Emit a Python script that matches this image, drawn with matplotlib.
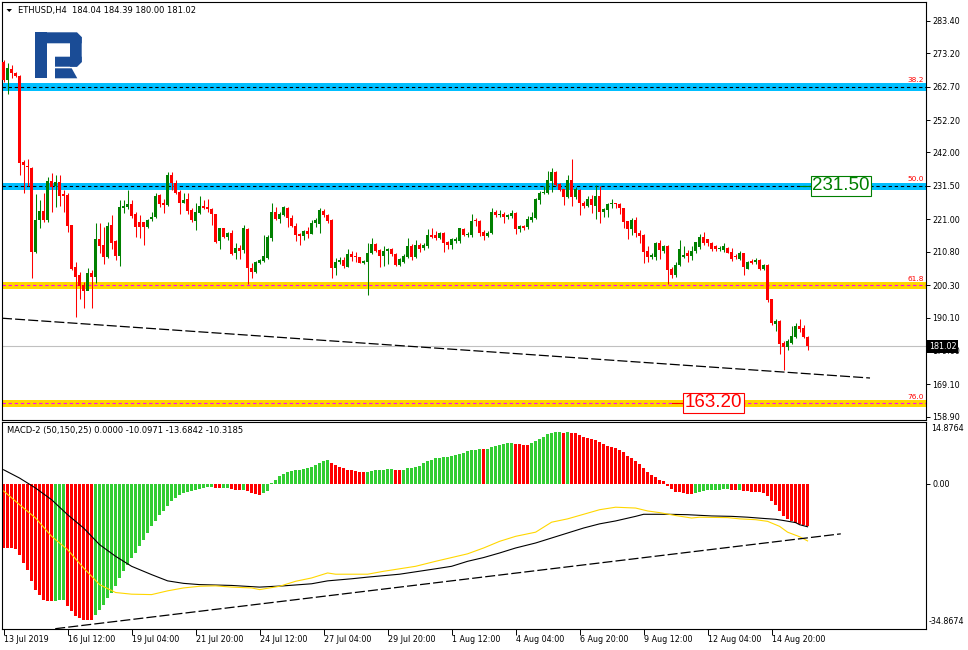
import matplotlib
matplotlib.use("Agg")
import matplotlib.pyplot as plt
import matplotlib.transforms as mtransforms
from matplotlib.patches import Polygon
import numpy as np

plt.rcParams['font.family'] = ['DejaVu Sans']

# ---- ETHUSD H4 candles (one value per bar) ----
opens = [
    270.4, 264.8, 268.2, 266.9, 266.0, 239.1, 237.9, 237.2, 210.6, 220.8,
    223.6, 220.8, 233.0, 231.4, 232.8, 229.1, 228.6, 219.2, 205.9, 203.5,
    200.3, 198.5, 204.0, 202.9, 214.7, 212.9, 209.0, 219.2, 214.1, 209.4,
    224.7, 224.9, 225.8, 222.6, 220.0, 220.0, 218.6, 221.0, 221.8, 228.6,
    226.2, 225.5, 234.9, 232.5, 229.6, 226.2, 227.4, 223.9, 220.5, 223.1,
    225.3, 224.9, 224.1, 222.6, 214.1, 218.1, 215.5, 216.7, 210.3, 212.1,
    211.3, 217.8, 205.6, 204.3, 207.3, 207.8, 208.7, 215.0, 223.4, 221.0,
    222.3, 224.6, 221.3, 219.0, 216.3, 215.7, 217.4, 216.5, 219.7, 219.5,
    223.6, 222.3, 220.8, 205.8, 207.7, 208.2, 206.1, 210.1, 209.2, 209.0,
    207.3, 207.7, 210.3, 213.2, 211.3, 209.4, 211.0, 211.6, 210.1, 206.6,
    207.7, 209.2, 212.6, 209.0, 212.9, 212.1, 212.6, 216.0, 216.0, 215.0,
    216.6, 213.9, 212.9, 214.2, 214.1, 217.9, 216.2, 216.2, 220.8, 220.5,
    217.1, 215.7, 216.6, 223.4, 222.3, 222.6, 221.6, 222.0, 223.1, 217.8,
    218.9, 218.7, 220.8, 221.5, 227.0, 229.3, 229.3, 233.1, 235.9, 232.1,
    230.4, 227.9, 233.3, 227.9, 230.2, 226.2, 225.3, 227.3, 225.2, 228.3,
    223.4, 223.9, 225.8, 226.0, 225.8, 224.4, 220.4, 217.8, 220.8, 216.6,
    216.0, 211.0, 209.0, 209.2, 213.6, 211.1, 212.6, 205.5, 203.5, 206.6,
    209.2, 210.3, 209.4, 211.1, 212.2, 215.5, 214.7, 213.4, 212.6, 211.5,
    211.3, 212.1, 210.8, 209.4, 208.4, 210.3, 205.5, 208.0, 207.6, 208.2,
    205.5, 206.6, 195.8, 188.1, 189.0, 182.2, 180.7, 182.2, 184.1, 187.4,
    186.7, 184.04,
]
highs = [
    271.0, 270.0, 269.5, 267.4, 266.3, 239.6, 240.0, 237.5, 229.1, 227.2,
    229.3, 234.3, 235.7, 234.9, 234.9, 230.2, 229.4, 219.2, 207.6, 204.5,
    201.4, 205.6, 205.0, 219.7, 219.7, 218.6, 220.2, 222.3, 214.5, 227.0,
    227.0, 230.2, 227.0, 223.4, 222.3, 220.2, 221.0, 223.4, 229.3, 229.1,
    227.5, 235.9, 235.9, 233.3, 230.2, 229.3, 229.4, 224.4, 226.0, 228.3,
    227.0, 227.5, 224.4, 222.8, 218.1, 218.1, 217.0, 217.6, 213.4, 212.9,
    219.2, 218.1, 207.1, 207.8, 208.4, 216.1, 216.0, 226.0, 224.9, 223.4,
    225.3, 224.9, 222.3, 219.7, 216.7, 217.6, 218.6, 220.9, 221.5, 224.4,
    224.1, 222.8, 221.1, 208.7, 209.2, 209.2, 211.8, 211.0, 210.8, 209.2,
    208.2, 213.4, 215.2, 213.4, 211.5, 212.6, 212.1, 212.0, 210.3, 208.7,
    210.1, 215.0, 213.2, 214.5, 213.6, 213.4, 217.9, 218.1, 217.4, 217.1,
    217.1, 214.2, 215.0, 215.5, 218.4, 218.1, 217.1, 222.8, 221.5, 220.9,
    217.6, 217.4, 224.4, 223.9, 223.9, 223.4, 222.8, 223.9, 223.4, 219.2,
    219.2, 222.0, 223.4, 227.6, 230.0, 231.5, 236.3, 237.1, 236.3, 232.3,
    230.4, 235.0, 239.9, 231.2, 230.4, 226.9, 228.3, 228.5, 231.7, 231.5,
    224.4, 226.2, 227.3, 226.2, 226.0, 224.7, 220.6, 221.3, 221.6, 217.6,
    216.3, 212.5, 210.3, 214.0, 214.5, 213.0, 213.0, 205.9, 207.5, 214.5,
    212.6, 211.3, 212.5, 214.0, 216.5, 217.1, 214.9, 213.9, 213.0, 212.6,
    213.4, 212.4, 212.0, 210.0, 211.1, 210.5, 208.0, 208.6, 208.8, 208.4,
    207.0, 206.9, 196.0, 189.5, 189.3, 182.6, 183.3, 187.4, 188.5, 189.8,
    187.8, 184.39,
]
lows = [
    264.0, 260.5, 265.3, 265.6, 234.9, 229.3, 231.5, 202.4, 210.3, 218.1,
    220.2, 220.2, 223.2, 224.9, 225.3, 223.4, 217.1, 205.0, 190.4, 195.8,
    193.0, 198.7, 193.0, 201.0, 210.3, 206.9, 208.7, 211.8, 208.2, 206.3,
    223.1, 224.1, 221.3, 215.5, 215.0, 212.9, 218.1, 220.5, 221.3, 225.0,
    223.1, 225.3, 230.2, 229.1, 222.6, 226.2, 222.6, 220.2, 217.6, 222.8,
    224.1, 223.4, 219.2, 213.6, 211.6, 215.0, 214.5, 209.7, 208.4, 208.4,
    210.3, 200.8, 202.4, 204.0, 206.9, 207.5, 208.5, 214.3, 220.8, 219.7,
    222.1, 218.6, 218.6, 214.1, 212.9, 214.5, 215.0, 216.3, 218.6, 216.7,
    221.8, 219.7, 202.4, 203.5, 206.9, 205.6, 205.9, 208.0, 207.7, 207.1,
    207.0, 197.2, 210.1, 210.8, 206.1, 206.3, 206.9, 209.5, 206.3, 206.3,
    207.3, 208.8, 208.2, 208.7, 210.8, 211.3, 212.1, 215.0, 214.5, 214.7,
    210.8, 211.8, 211.6, 213.4, 213.6, 215.7, 215.5, 215.5, 219.0, 215.7,
    214.4, 215.3, 216.3, 221.8, 221.6, 219.7, 221.1, 221.3, 216.3, 217.1,
    217.6, 217.9, 220.2, 221.1, 225.7, 228.8, 229.1, 229.5, 231.5, 229.9,
    225.6, 227.6, 225.3, 227.4, 222.3, 224.4, 225.0, 223.1, 221.0, 219.9,
    221.8, 221.8, 224.7, 224.4, 222.6, 218.1, 214.7, 216.0, 215.5, 213.6,
    207.3, 207.7, 208.4, 208.2, 208.6, 210.5, 200.8, 202.4, 203.0, 206.3,
    208.8, 207.5, 208.2, 210.5, 211.5, 213.0, 212.6, 211.0, 211.1, 211.0,
    210.8, 210.3, 208.0, 208.6, 208.2, 203.4, 205.3, 206.8, 207.0, 205.2,
    205.2, 194.9, 187.8, 186.0, 178.8, 173.6, 180.0, 181.8, 183.6, 185.5,
    183.8, 180.00,
]
closes = [
    264.8, 268.5, 266.9, 266.0, 238.8, 238.0, 237.3, 210.8, 220.8, 223.6,
    220.8, 233.0, 231.2, 232.8, 228.3, 228.3, 219.0, 205.4, 203.0, 200.1,
    198.5, 204.0, 202.9, 214.7, 212.7, 209.0, 218.9, 213.4, 209.4, 224.9,
    225.3, 225.8, 222.0, 218.6, 218.6, 218.6, 220.8, 221.8, 228.3, 225.8,
    225.5, 234.9, 232.3, 229.3, 226.2, 227.2, 223.6, 220.8, 223.4, 225.1,
    224.7, 224.1, 222.6, 213.9, 218.1, 215.5, 216.7, 210.1, 212.1, 211.1,
    218.1, 205.6, 204.3, 207.6, 208.2, 209.3, 215.5, 223.4, 221.0, 222.8,
    224.9, 221.3, 218.9, 216.0, 215.7, 217.4, 216.5, 219.7, 220.8, 223.8,
    222.3, 220.5, 205.8, 207.7, 208.2, 206.3, 210.1, 209.0, 209.0, 207.3,
    208.0, 210.3, 213.2, 211.0, 209.4, 211.0, 211.8, 210.1, 206.6, 208.4,
    209.4, 212.6, 209.0, 212.9, 211.8, 212.9, 216.0, 215.5, 215.0, 216.6,
    213.6, 212.9, 214.7, 214.7, 218.1, 216.2, 216.5, 220.4, 220.4, 216.8,
    215.7, 216.8, 223.4, 222.3, 222.8, 221.6, 222.3, 223.1, 217.8, 219.0,
    218.4, 221.1, 221.8, 227.4, 229.3, 229.7, 233.3, 235.9, 231.8, 230.2,
    227.9, 233.5, 227.9, 230.4, 226.0, 225.3, 227.3, 225.6, 228.3, 223.4,
    224.2, 225.8, 226.2, 225.8, 224.4, 220.2, 217.8, 220.8, 216.6, 215.7,
    210.8, 209.0, 209.7, 213.4, 211.3, 212.6, 205.2, 203.5, 206.6, 211.8,
    209.7, 209.4, 211.1, 213.9, 215.5, 213.4, 213.6, 211.5, 211.5, 212.1,
    212.6, 210.5, 208.4, 209.0, 210.3, 205.9, 207.6, 207.3, 208.2, 205.5,
    206.6, 195.6, 188.3, 189.0, 181.8, 180.7, 182.8, 184.3, 187.4, 186.4,
    184.1, 181.02,
]

# ---- MACD-2 (50,150,25) histogram, one value per bar ----
macd_hist = [
    -15.3, -15.4, -15.5, -15.6, -17.0, -19.0, -20.6, -23.4, -25.4, -26.8,
    -28.0, -28.1, -28.2, -28.1, -28.0, -27.9, -29.4, -30.6, -31.8, -32.2,
    -32.6, -32.7, -32.8, -31.6, -30.2, -29.0, -27.4, -26.2, -24.6, -22.6,
    -21.0, -19.4, -17.8, -16.6, -15.0, -13.4, -11.8, -10.2, -9.0, -7.4,
    -6.6, -5.4, -4.2, -3.4, -2.6, -2.2, -1.9, -1.6, -1.4, -1.2,
    -1.0, -0.8, -0.7, -1.0, -1.1, -1.0, -0.9, -1.2, -1.4, -1.5,
    -1.4, -1.8, -2.2, -2.5, -2.6, -2.3, -1.8, 0.3, 1.0, 1.8,
    2.3, 2.8, 3.1, 3.3, 3.45, 3.6, 3.76, 4.08, 4.56, 5.12,
    5.6, 5.76, 4.96, 4.56, 4.08, 3.76, 3.45, 3.36, 3.12, 2.85,
    2.8, 2.85, 3.12, 3.36, 3.38, 3.4, 3.6, 3.62, 3.4, 3.38,
    3.42, 3.76, 3.92, 4.16, 4.4, 4.96, 5.52, 5.84, 6.16, 6.24,
    6.48, 6.5, 6.72, 6.96, 7.2, 7.44, 7.91, 8.07, 8.23, 8.39,
    8.37, 8.42, 8.79, 9.03, 9.35, 9.59, 9.75, 9.77, 9.7, 9.51,
    9.35, 9.3, 9.75, 10.39, 10.79, 11.27, 11.91, 12.23, 12.39, 12.55,
    12.23, 12.47, 12.23, 12.2, 11.75, 11.27, 11.11, 10.79, 10.63, 10.15,
    9.59, 9.11, 8.87, 8.63, 8.15, 7.67, 6.72, 6.32, 5.52, 4.8,
    3.84, 2.88, 2.16, 1.68, 0.96, 0.72, -0.48, -1.2, -1.84, -1.86,
    -2.24, -2.40, -2.42, -2.16, -1.92, -1.6, -1.44, -1.43, -1.42, -1.41,
    -1.2, -1.19, -1.44, -1.45, -1.40, -1.68, -1.7, -1.92, -1.93, -1.94,
    -2.16, -2.88, -4.08, -5.04, -6.48, -7.67, -8.39, -9.03, -9.35, -9.67,
    -9.83, -10.1,
]

# MACD main (black) and signal (gold) lines, read at these bars
main_idx = [0, 4, 8, 12, 16, 20, 24, 28, 32, 37, 41, 45, 49, 57, 64, 70, 77, 81,
            87, 91, 99, 108, 112, 116, 120, 124, 128, 133, 137, 141, 145, 149,
            153, 158, 160, 166, 171, 177, 182, 186, 190, 193, 195, 198, 199, 201]
main_val = [3.4, 1.4, -1.0, -3.8, -7.4, -10.6, -14.6, -17.4, -19.8, -21.8, -23.3,
            -23.9, -24.2, -24.4, -24.8, -24.5, -24.0, -23.3, -22.8, -22.4, -21.7,
            -20.4, -19.8, -18.6, -17.7, -16.6, -15.4, -14.2, -13.0, -11.8, -10.6,
            -9.6, -8.9, -7.8, -7.3, -7.3, -7.4, -7.7, -7.8, -8.0, -8.3, -8.5,
            -8.8, -9.3, -9.8, -10.3]
sig_idx = [0, 4, 8, 12, 16, 20, 24, 28, 32, 37, 41, 45, 49, 53, 57, 62, 64, 69,
           73, 77, 81, 83, 91, 95, 99, 103, 108, 112, 116, 120, 124, 128, 133,
           137, 141, 145, 149, 153, 158, 161, 164, 168, 172, 174, 181, 184, 188,
           191, 194, 196, 199, 201]
sig_val = [-1.7, -5.0, -8.2, -12.6, -15.8, -20.2, -24.2, -26.1, -26.5, -26.6,
           -25.7, -25.0, -24.6, -24.5, -24.8, -25.0, -25.4, -24.6, -23.4, -22.6,
           -21.4, -21.7, -21.7, -21.0, -20.4, -19.8, -18.6, -17.7, -16.8, -15.4,
           -13.8, -12.6, -11.6, -9.2, -8.4, -7.3, -6.2, -5.6, -5.8, -6.5, -6.9,
           -7.6, -8.2, -8.0, -8.1, -8.4, -8.6, -9.0, -10.2, -11.6, -12.7, -13.7]

# trend lines (bar index, value)
price_trend_x = [-0.4, 216.6]
price_trend_y = [189.9, 171.1]
macd_trend_x = [12.9, 209.3]
macd_trend_y = [-34.8, -12.0]

# fibonacci levels
fib_levels = [262.7, 231.5, 200.3, 163.2]
fib_names = ['38.2', '50.0', '61.8', '76.0']
fib_band = ['#00bfff', '#00bfff', '#ffd700', '#ffd700']
fib_dash = ['#000000', '#000000', '#ff00ff', '#ff00ff']

price_ticks = [283.40, 273.20, 262.70, 252.20, 242.00, 231.50, 221.00,
               210.80, 200.30, 190.10, 179.60, 169.10, 158.90]
last_price = 181.02

time_idx = [0, 16, 32, 48, 64, 80, 96, 112, 128, 144, 160, 176, 192]
time_labels = ['13 Jul 2019', '16 Jul 12:00', '19 Jul 04:00', '21 Jul 20:00',
               '24 Jul 12:00', '27 Jul 04:00', '29 Jul 20:00', '1 Aug 12:00',
               '4 Aug 04:00', '6 Aug 20:00', '9 Aug 12:00', '12 Aug 04:00',
               '14 Aug 20:00']

W, H = 968, 650
fig = plt.figure(figsize=(W / 100, H / 100), dpi=100)
fig.patch.set_facecolor('white')

ax = fig.add_axes([2 / W, 1 - 420 / H, 924 / W, 418 / H])
axm = fig.add_axes([2 / W, 1 - 629 / H, 924 / W, 207 / H])

XMIN, XMAX = -0.4, 230.6
FS = 5.8

# ---------------- price panel ----------------
x = np.arange(len(closes))
o = np.array(opens); c = np.array(closes)
h = np.array(highs); l = np.array(lows)
ccol = np.where(c >= o, '#008000', '#ff0000')

for lev, bc, dc, name in zip(fib_levels, fib_band, fib_dash, fib_names):
    ax.axhspan(lev - 1.35, lev + 1.05, color=bc, lw=0, zorder=1)
    ax.axhline(lev, color=dc, lw=0.8, ls=(0, (3, 2.5)), zorder=2)
    ax.text(0.998, lev + 1.1, name, transform=mtransforms.blended_transform_factory(ax.transAxes, ax.transData),
            ha='right', va='bottom', fontsize=5.3, color='#ff0000', zorder=6)

ax.axhline(last_price, color='#c0c0c0', lw=0.8, zorder=2)
ax.plot(price_trend_x, price_trend_y, color='black', lw=0.9, ls=(0, (8, 2.5)), zorder=3)

ax.vlines(x, l, h, colors=ccol, lw=0.75, zorder=4)
ax.bar(x, np.maximum(np.abs(c - o), 0.3), bottom=np.minimum(o, c), width=0.7,
       color=ccol, lw=0, zorder=5)

# price boxes
ax.plot([199.1, 201.6], [231.5, 231.5], color='#007f00', lw=0.8, zorder=6)
ax.text(209.4, 231.5, '231.50', ha='center', va='center', fontsize=13.5,
        family='Liberation Sans', color='#007f00', zorder=7,
        bbox=dict(boxstyle='square,pad=0.08', fc='white', ec='#007f00', lw=0.8))
ax.plot([167.1, 169.6], [163.2, 163.2], color='#ff0000', lw=0.8, zorder=6)
ax.text(177.5, 163.3, '163.20', ha='center', va='center', fontsize=13.5,
        family='Liberation Sans', color='#ff0000', zorder=7,
        bbox=dict(boxstyle='square,pad=0.08', fc='white', ec='#ff0000', lw=0.8))

ax.set_xlim(XMIN, XMAX)
ax.set_ylim(157.9, 289.3)
ax.set_xticks([])
ax.yaxis.tick_right()
ax.set_yticks(price_ticks)
ax.set_yticklabels([f'{v:.2f}' for v in price_ticks])
ax.tick_params(axis='y', direction='out', length=3, width=0.7, pad=1.5, labelsize=FS)

blend = mtransforms.blended_transform_factory(ax.transAxes, ax.transData)
ax.text(1.003, last_price, '181.02', transform=blend, ha='left', va='center',
        fontsize=FS, color='white', zorder=10, clip_on=False,
        bbox=dict(boxstyle='square,pad=0.25', fc='black', ec='black', lw=0))

# ---------------- MACD panel ----------------
hist = np.array(macd_hist)
hcol = ['#ff0000'] + ['#32cd32' if hist[i] > hist[i - 1] else '#ff0000'
                      for i in range(1, len(hist))]
axm.bar(np.arange(len(hist)), hist, width=0.75, color=hcol, lw=0, zorder=2)
axm.plot(main_idx, main_val, color='black', lw=0.8, zorder=3)
axm.plot(sig_idx, sig_val, color='#ffd700', lw=0.8, zorder=3)
axm.plot(macd_trend_x, macd_trend_y, color='black', lw=0.9, ls=(0, (8, 2.5)), zorder=3)

axm.set_xlim(XMIN, XMAX)
axm.set_ylim(-34.8674, 14.8764)
axm.yaxis.tick_right()
axm.set_yticks([0])
axm.set_yticklabels(['0.00'])
axm.tick_params(axis='y', direction='out', length=3, width=0.7, pad=1.5, labelsize=FS)
axm.set_xticks(time_idx)
axm.set_xticklabels(time_labels)
axm.tick_params(axis='x', direction='out', length=4, width=0.7, pad=0, labelsize=FS)
for lab in axm.get_xticklabels():
    lab.set_horizontalalignment('left')

for a in (ax, axm):
    for s in a.spines.values():
        s.set_linewidth(0.8)
        s.set_color('black')

# ---------------- overlay: headers, logo ----------------
ov = fig.add_axes([0, 0, 1, 1], zorder=20)
ov.set_xlim(0, W)
ov.set_ylim(H, 0)
ov.axis('off')
ov.patch.set_alpha(0)

ov.add_patch(Polygon([(6.5, 9), (12, 9), (9.25, 12)], closed=True, fc='black', ec='none'))
ov.text(18, 11, 'ETHUSD,H4  184.04 184.39 180.00 181.02', fontsize=6, va='center', ha='left')
ov.text(7, 431, 'MACD-2 (50,150,25) 0.0000 -10.0971 -13.6842 -10.3185', fontsize=6,
        va='center', ha='left')
ov.text(931, 428.5, '14.8764', fontsize=FS, va='center', ha='left')
ov.text(929, 622, '-34.8674', fontsize=FS, va='center', ha='left')

logo = '#1a4c96'
for pts in [
    [(35, 32.3), (46.7, 32.3), (46.7, 78.3), (35, 78.3)],
    [(35, 32.3), (77, 32.3), (81.7, 37), (81.7, 43.3), (35, 43.3)],
    [(70, 37), (81.7, 37), (81.7, 62), (77, 66.7), (70, 66.7)],
    [(55, 56.7), (81.7, 56.7), (81.7, 62), (77, 66.7), (55, 66.7)],
    [(55, 68.3), (71.7, 68.3), (77.3, 78.3), (55, 78.3)],
]:
    ov.add_patch(Polygon(pts, closed=True, fc=logo, ec='none'))

fig.savefig('out.png', dpi=100)
